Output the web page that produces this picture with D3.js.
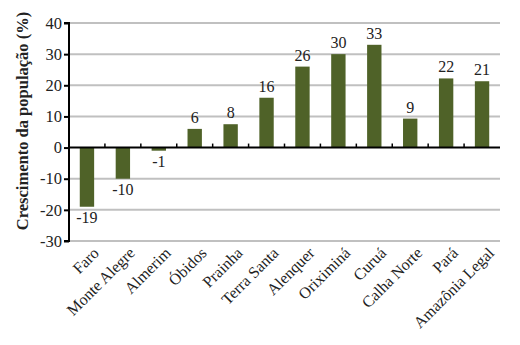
<!DOCTYPE html>
<html><head><meta charset="utf-8">
<script src="https://cdn.jsdelivr.net/npm/d3@7"></script>
<style>body{margin:0;background:#fff}svg{display:block}text{font-family:"Liberation Serif","DejaVu Serif",serif}</style>
</head><body>
<svg id="c" width="520" height="345"></svg>
<script>
const categories = ["Faro","Monte Alegre","Almerim","Óbidos","Prainha","Terra Santa","Alenquer","Oriximiná","Curuá","Calha Norte","Pará","Amazônia Legal"];
const values = [-19,-10,-1,6,7.5,16,26,30,33,9.3,22.2,21.3];
const valueLabels = ["-19","-10","-1","6","8","16","26","30","33","9","22","21"];
const yTicks = [-30,-20,-10,0,10,20,30,40];
const yTitle = "Crescimento da população (%)";

const svg = d3.select("#c");
const mLeft = 69, mRight = 500, mTop = 23, mBottom = 241;
const x = d3.scaleBand().domain(categories).range([mLeft, mRight]).paddingInner(0.6).paddingOuter(0.3);
const y = d3.scaleLinear().domain([-30, 40]).range([mBottom, mTop]);

// gridlines
svg.append("g").selectAll("line").data(yTicks.filter(d => d !== 0)).join("line")
  .attr("x1", mLeft).attr("x2", mRight).attr("y1", d => y(d)).attr("y2", d => y(d))
  .attr("stroke", "#c0c0c0").attr("stroke-width", 2);

// bars
svg.append("g").selectAll("rect").data(values).join("rect")
  .attr("x", (d, i) => x(categories[i]))
  .attr("width", x.bandwidth())
  .attr("y", d => y(Math.max(0, d)))
  .attr("height", d => Math.abs(y(d) - y(0)))
  .attr("fill", "#4f6228");

// zero line with ticks
const zero = svg.append("g").attr("transform", `translate(0,${y(0)})`);
zero.append("line").attr("x1", mLeft).attr("x2", mRight).attr("stroke", "#000").attr("stroke-width", 2);
const bounds = d3.range(1, categories.length).map(i => mLeft + i * (mRight - mLeft) / categories.length);
zero.selectAll("line.t").data(bounds).join("line").attr("class", "t")
  .attr("x1", d => d).attr("x2", d => d).attr("y1", -4).attr("y2", 0)
  .attr("stroke", "#000").attr("stroke-width", 1.5);

// y axis
const ya = svg.append("g").attr("transform", `translate(${mLeft},0)`)
  .call(d3.axisLeft(y).tickValues(yTicks).tickSize(5).tickPadding(2).tickFormat(d => String(d)));
ya.select(".domain").attr("stroke", "#000").attr("stroke-width", 2).attr("d", `M-5,${mTop}H0V${mBottom}H-5`);
ya.selectAll(".tick line").attr("stroke", "#000").attr("stroke-width", 2);
ya.selectAll(".tick text").attr("font-size", 16.5).attr("fill", "#222").style("font-family", '"Liberation Serif",serif');

// value labels
svg.append("g").selectAll("text").data(values).join("text")
  .attr("x", (d, i) => x(categories[i]) + x.bandwidth() / 2)
  .attr("y", d => d >= 0 ? y(d) - 6 : y(d) + 16)
  .attr("text-anchor", "middle").attr("font-size", 16).attr("fill", "#222")
  .text((d, i) => valueLabels[i]);

// x labels
svg.append("g").selectAll("text").data(categories).join("text")
  .attr("transform", d => `translate(${x(d) + x.bandwidth() / 2 + 13},${y(-30) + 13}) rotate(-45)`)
  .attr("text-anchor", "end").attr("font-size", 16).attr("fill", "#222")
  .text(d => d);

// y title
svg.append("text")
  .attr("transform", `translate(28,121) rotate(-90)`)
  .attr("text-anchor", "middle").attr("font-size", 16.5).attr("font-weight", "bold").attr("fill", "#222")
  .text(yTitle);
</script>
</body></html>
